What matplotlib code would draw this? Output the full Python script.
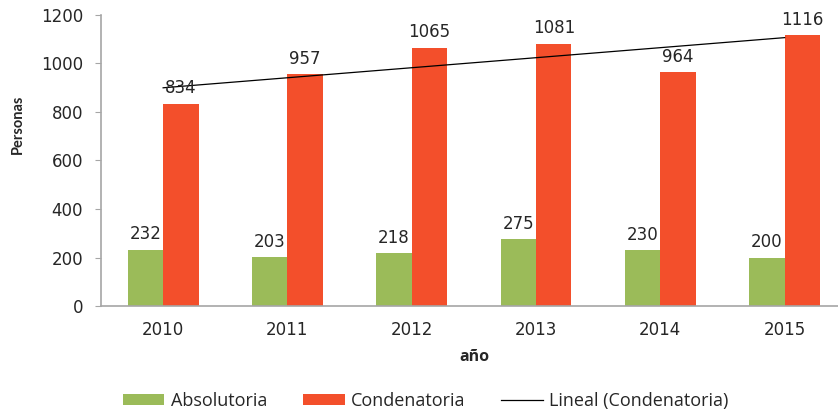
import numpy as np
import matplotlib.pyplot as plt

plt.rcParams["font.family"] = ["Open Sans", "DejaVu Sans"]

# Sentencias por año
years = ["2010", "2011", "2012", "2013", "2014", "2015"]
absolutoria = [232, 203, 218, 275, 230, 200]
condenatoria = [834, 957, 1065, 1081, 964, 1116]

GREEN = "#9BBB59"
RED = "#F34F2B"
TXT = "#262626"
NUM_FONT = "DejaVu Sans"

fig = plt.figure(figsize=(8.38, 4.13), dpi=100)
ax = fig.add_axes([0.1205, 0.259, 0.890, 0.705])

x = np.arange(len(years))
w = 0.285
b1 = ax.bar(x - w / 2, absolutoria, w, color=GREEN, label="Absolutoria")
b2 = ax.bar(x + w / 2, condenatoria, w, color=RED, label="Condenatoria")

for bars, vals in ((b1, absolutoria), (b2, condenatoria)):
    for bar, v in zip(bars, vals):
        ax.annotate(str(v), (bar.get_x() + bar.get_width() / 2, v),
                    xytext=(0, 4.5), textcoords="offset points",
                    ha="center", va="bottom", fontsize=12,
                    family=NUM_FONT, color=TXT)

# linear trend of Condenatoria
coef = np.polyfit(x, condenatoria, 1)
trend, = ax.plot(x, np.polyval(coef, x), color="black", lw=0.9,
                 label="Lineal (Condenatoria)")

ax.set_xlim(-0.5, 5.5)
ax.set_ylim(0, 1200)
ax.set_yticks(range(0, 1201, 200))
ax.set_xticks(x)
ax.set_xticklabels(years)
ax.tick_params(axis="y", length=4, color="#A6A6A6", labelsize=12,
               labelcolor=TXT, pad=9)
ax.tick_params(axis="x", length=0, labelsize=12, labelcolor=TXT, pad=11)
for lbl in ax.get_xticklabels() + ax.get_yticklabels():
    lbl.set_family(NUM_FONT)
for s in ("top", "right"):
    ax.spines[s].set_visible(False)
for s in ("left", "bottom"):
    ax.spines[s].set_color("#A6A6A6")
    ax.spines[s].set_linewidth(1.2)

fig.text(0.566, 0.136, "año", ha="center", va="center",
         fontsize=11.5, fontweight="bold", color=TXT)
fig.text(0.021, 0.70, "Personas", ha="center", va="center", rotation=90,
         fontsize=10.5, fontweight="bold", family="Lato", color=TXT)

fig.legend(handles=[b1, b2, trend], loc="center",
           bbox_to_anchor=(0.508, 0.029), ncol=3, frameon=False,
           fontsize=13, handlelength=2.3, handleheight=0.5,
           columnspacing=2.0, handletextpad=0.35, labelcolor=TXT)

fig.savefig("out.png", dpi=100)
